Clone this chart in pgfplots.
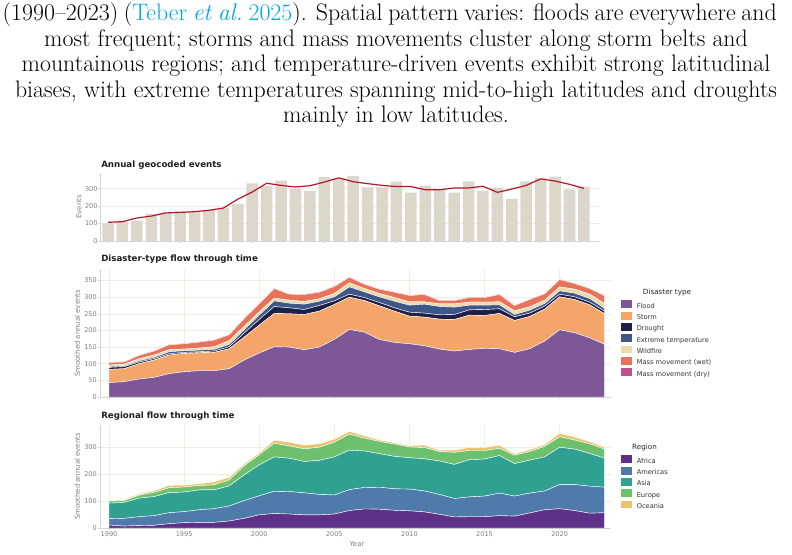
\documentclass[border=0pt]{standalone}
\usepackage{pgfplots}
\pgfplotsset{compat=1.18}
\usepackage{pgfplotstable}
\usepackage{fontspec}
\newfontfamily\dejavu{DejaVu Sans}
\definecolor{citecol}{RGB}{0,165,230}
\definecolor{barcol}{HTML}{DDD6CB}
\definecolor{linecol}{HTML}{B2182B}
\definecolor{gridcol}{HTML}{EFECE4}
\definecolor{spinecol}{HTML}{D5D5D5}
\definecolor{tickcol}{HTML}{7F7F7F}
\definecolor{cFlood}{HTML}{7E5896}
\definecolor{cStorm}{HTML}{F4A66A}
\definecolor{cDrought}{HTML}{1E2045}
\definecolor{cExt}{HTML}{3F5689}
\definecolor{cWild}{HTML}{EDD9AA}
\definecolor{cWet}{HTML}{E9735A}
\definecolor{cDry}{HTML}{C1508F}
\definecolor{cAfr}{HTML}{5E3188}
\definecolor{cAme}{HTML}{4F7BAA}
\definecolor{cAsi}{HTML}{30A091}
\definecolor{cEur}{HTML}{6DC16E}
\definecolor{cOce}{HTML}{EAC46C}

\pgfplotstableread{
year events smooth
1990 101 107
1991 111 111
1992 117 132
1993 155 143
1994 163 161
1995 170 164
1996 164 168
1997 178 176
1998 191 189
1999 212 240
2000 331 281
2001 315 331
2002 346 319
2003 300 310
2004 287 317
2005 367 338
2006 360 362
2007 373 340
2008 308 329
2009 308 319
2010 340 312
2011 277 312
2012 317 294
2013 296 294
2014 277 304
2015 342 304
2016 289 314
2017 306 279
2018 241 298
2019 342 319
2020 361 356
2021 369 344
2022 296 325
2023 312 302
}\annual

\pgfplotstableread{
year flood storm drought ext wild wet dry
1990 43 40 6 3 4 8 0.5
1991 46 39 6 3 4 7 0.5
1992 54 46 5 4 6 10 0.5
1993 59 52 4 4 7 12 0.5
1994 70 56 4 6 6 15 0.5
1995 76 55 3 5 5 16 0.5
1996 79 54 3 5 6 18 0.5
1997 79 55 4 5 8 20 0.5
1998 85 60 6 7 11 18 0.5
1999 111 69 12 10 10 24 0.5
2000 132 84 17 13 10 25 0.5
2001 151 100 21 17 8 29 0.5
2002 150 100 18 14 9 18 0.5
2003 142 106 15 16 8 21 0.5
2004 150 108 17 13 7 20 0.5
2005 173 105 11 12 10 21 0.5
2006 203 97 9 22 12 17 0.5
2007 195 95 9 17 10 13 0.5
2008 173 101 10 17 10 13 0.5
2009 164 94 10 20 11 16 0.5
2010 160 83 12 21 10 19 0.5
2011 154 86 12 27 7 22 0.5
2012 144 90 13 25 8 10 0.5
2013 138 95 15 22 10 10 0.5
2014 143 103 16 14 9 14 0.5
2015 146 99 18 13 9 14 0.5
2016 145 106 14 12 9 22 0.5
2017 134 96 11 7 11 16 0.5
2018 145 97 10 9 10 22 0.5
2019 168 96 9 8 10 19 0.5
2020 202 99 8 10 12 22 0.5
2021 193 100 8 11 12 17 0.5
2022 178 99 8 11 13 17 0.5
2023 158 92 8 8 15 23 0.5
}\disaster

\pgfplotstableread{
year africa americas asia europe oceania
1990 11 24 58 8 2
1991 7 29 59 7 4
1992 9 33 69 11 5
1993 10 36 71 16 6
1994 16 41 75 18 9
1995 20 41 73 19 7
1996 21 47 74 16 7
1997 21 51 70 19 11
1998 26 56 75 22 10
1999 36 66 96 34 7
2000 49 71 115 38 7
2001 54 83 128 51 11
2002 52 84 124 46 14
2003 49 82 117 47 14
2004 49 76 127 49 13
2005 52 71 142 55 11
2006 65 78 147 60 10
2007 71 80 136 48 9
2008 70 82 125 46 5
2009 66 80 121 46 5
2010 64 81 117 40 5
2011 60 78 120 42 9
2012 51 74 125 35 5
2013 41 69 127 45 8
2014 42 74 139 34 12
2015 42 77 138 32 11
2016 46 84 140 27 12
2017 44 75 121 31 5
2018 56 74 123 32 7
2019 68 70 127 39 7
2020 72 90 139 39 13
2021 65 97 132 34 11
2022 55 101 122 36 8
2023 57 95 108 34 7
}\region

\pgfplotsset{
  panel/.style={
    scale only axis, anchor=south west,
    axis x line*=bottom, axis y line*=left,
    axis line style={spinecol, line width=0.5pt},
    every tick/.style={spinecol, line width=0.5pt},
    tick align=outside, major tick length=1.8pt,
    grid style={gridcol, line width=0.5pt},
    tick label style={font=\dejavu\fontsize{4.9}{5}\selectfont, text=tickcol, inner sep=0.4pt},
    /pgf/number format/assume math mode=true,
    /pgf/number format/1000 sep={},
    scaled ticks=false,
    ymin=0,
    xtick={1990,1995,...,2020},
    clip=true,
  },
  leg/.style={
    legend style={draw=none, fill=none, inner sep=0pt, outer sep=0pt,
      font=\dejavu\fontsize{5}{6}\selectfont, text=black!80,
      row sep=0.75pt, column sep=3.4pt, nodes={inner sep=0.4pt}},
    legend cell align=left,
    legend image code/.code={\fill[##1, draw=none] (0pt,-1.1pt) rectangle (8.25pt,4.7pt);},
  },
  area/.style={fill=#1, draw=white, line width=0.3pt},
}

\begin{document}
\begin{tikzpicture}
\path[use as bounding box] (0,0) rectangle (594pt,415.5pt);

% caption text
\begin{scope}[every node/.style={inner sep=0pt, anchor=base, font=\fontsize{17.9}{19}\selectfont}]
\node at (292.3pt,399.75pt) {\makebox[580.5pt][s]{(1990–2023) (\textcolor{citecol}{Teber \textit{et al.}\ 2025}). Spatial pattern varies: floods are everywhere and}};
\node at (297pt,380.6pt) {most frequent; storms and mass movements cluster along storm belts and};
\node at (297pt,361.5pt) {mountainous regions; and temperature-driven events exhibit strong latitudinal};
\node at (297pt,342.4pt) {biases, with extreme temperatures spanning mid-to-high latitudes and droughts};
\node at (297pt,323.25pt) {mainly in low latitudes.};
\end{scope}

% Panel 1
\begin{axis}[panel, at={(75.53pt,234.75pt)}, width=374.5pt, height=51pt,
  xmin=1989.49, xmax=2024.12, ymax=390, ytick={0,100,200,300},
  xticklabels={}, ymajorgrids=true]
\addplot[ybar, bar width=0.8, fill=barcol, draw=none] table[x=year,y=events]{\annual};
\addplot[linecol, line width=0.9pt, no markers] table[x=year,y=smooth]{\annual};
\end{axis}

% Panel 2
\begin{axis}[panel, leg, at={(75pt,117.75pt)}, width=383.25pt, height=95.8pt,
  xmin=1989.4, xmax=2023.42, ymax=384, ytick={0,50,...,350},
  xticklabels={}, grid=major, stack plots=y,
  legend style={at={(axis description cs:1.019,0.756)}, anchor=north west}]
\addplot[area=cFlood] table[x=year,y=flood]{\disaster} \closedcycle;
\addplot[area=cStorm] table[x=year,y=storm]{\disaster} \closedcycle;
\addplot[area=cDrought] table[x=year,y=drought]{\disaster} \closedcycle;
\addplot[area=cExt] table[x=year,y=ext]{\disaster} \closedcycle;
\addplot[area=cWild] table[x=year,y=wild]{\disaster} \closedcycle;
\addplot[area=cWet] table[x=year,y=wet]{\disaster} \closedcycle;
\addplot[fill=cDry, draw=none] table[x=year,y=dry]{\disaster} \closedcycle;
\legend{Flood,Storm,Drought,Extreme temperature,Wildfire,Mass movement (wet),Mass movement (dry)}
\end{axis}

% Panel 3
\begin{axis}[panel, leg, at={(75pt,19.5pt)}, width=383.25pt, height=77.25pt,
  xmin=1989.4, xmax=2023.42, ymax=384, ytick={0,100,200,300},
  grid=major, stack plots=y,
  legend style={at={(axis description cs:1.019,0.704)}, anchor=north west}]
\addplot[area=cAfr] table[x=year,y=africa]{\region} \closedcycle;
\addplot[area=cAme] table[x=year,y=americas]{\region} \closedcycle;
\addplot[area=cAsi] table[x=year,y=asia]{\region} \closedcycle;
\addplot[area=cEur] table[x=year,y=europe]{\region} \closedcycle;
\addplot[area=cOce] table[x=year,y=oceania]{\region} \closedcycle;
\legend{Africa,Americas,Asia,Europe,Oceania}
\end{axis}

% titles and labels
\begin{scope}[every node/.style={inner sep=0pt}]
\node[anchor=west, font=\dejavu\bfseries\fontsize{6.5}{7}\selectfont, text=black!88] at (75.75pt,291.75pt) {Annual geocoded events};
\node[anchor=west, font=\dejavu\bfseries\fontsize{6.5}{7}\selectfont, text=black!88] at (75.75pt,221pt) {Disaster-type flow through time};
\node[anchor=west, font=\dejavu\bfseries\fontsize{6.5}{7}\selectfont, text=black!88] at (75.75pt,103.5pt) {Regional flow through time};
\node[rotate=90, font=\dejavu\fontsize{5.2}{6}\selectfont, text=tickcol] at (59.25pt,260.25pt) {Events};
\node[rotate=90, font=\dejavu\fontsize{5.2}{6}\selectfont, text=tickcol] at (58pt,165.5pt) {Smoothed annual events};
\node[rotate=90, font=\dejavu\fontsize{5.2}{6}\selectfont, text=tickcol] at (58pt,58.1pt) {Smoothed annual events};
\node[font=\dejavu\fontsize{5.2}{6}\selectfont, text=tickcol] at (267.75pt,7.3pt) {Year};
\node[font=\dejavu\fontsize{5.4}{6}\selectfont, text=black!85] at (500.25pt,195.75pt) {Disaster type};
\node[font=\dejavu\fontsize{5.4}{6}\selectfont, text=black!85] at (483.4pt,79.7pt) {Region};
\end{scope}
\end{tikzpicture}
\end{document}
